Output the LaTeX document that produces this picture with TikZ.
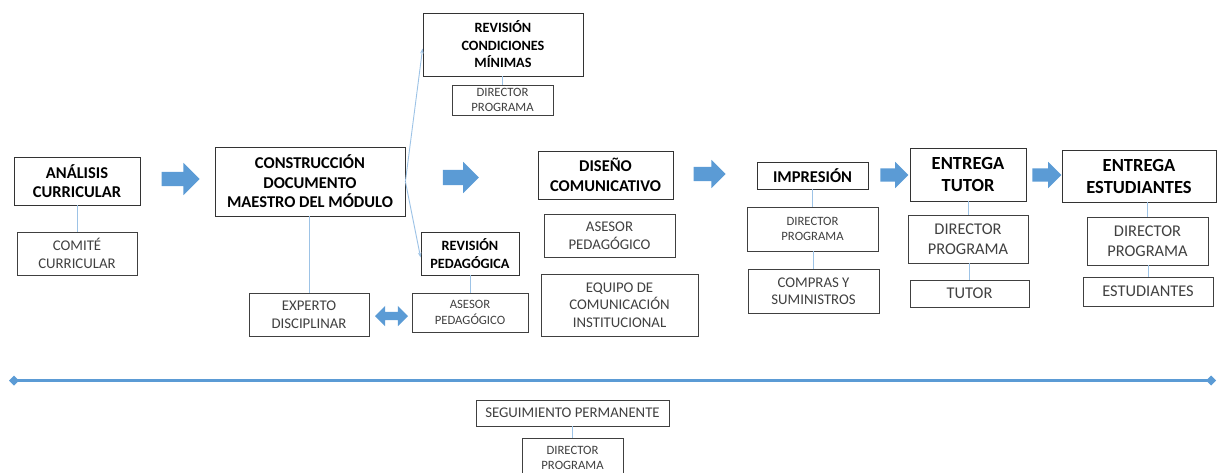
\documentclass[tikz,border=0pt]{standalone}
\usepackage{fontspec}
\setmainfont{Carlito}
\usetikzlibrary{shapes.arrows,arrows.meta}
\definecolor{flowblue}{HTML}{5B9BD5}
\definecolor{linkblue}{HTML}{9DC3E6}
\newcommand{\stagefont}{\fontsize{16.5}{19.5}\selectfont\bfseries}
\newcommand{\bigstagefont}{\fontsize{18.5}{22}\selectfont\bfseries}
\newcommand{\midstagefont}{\fontsize{14.2}{17.5}\selectfont\bfseries}
\newcommand{\actorfont}{\fontsize{14.8}{17.5}\selectfont}
\newcommand{\bigactorfont}{\fontsize{16.4}{20}\selectfont}
\newcommand{\smallactorfont}{\fontsize{12.7}{15.5}\selectfont}

\tikzset{
  stage/.style={draw=black!80, line width=0.8pt, align=center, inner sep=0pt, font=\stagefont},
  actor/.style={draw=black!75, line width=0.7pt, align=center, inner sep=0pt, text=black!75, font=\actorfont},
  link/.style={linkblue, line width=0.9pt},
  flow/.style={single arrow, fill=flowblue, inner xsep=0pt, minimum height=#1},
  twoway/.style={double arrow, fill=flowblue, inner xsep=0pt, minimum height=#1}
}

\begin{document}
\begin{tikzpicture}[x=1pt,y=-1pt]
\useasboundingbox (0,0) rectangle (1217,472);

\node[stage, minimum width=126pt, minimum height=48pt] (analisis) at (77,181) {ANÁLISIS\\CURRICULAR};
\node[actor, minimum width=120pt, minimum height=43pt] (comite) at (77,253.5) {COMITÉ\\CURRICULAR};

\node[stage, minimum width=190pt, minimum height=69pt] (construccion) at (310,181.5) {CONSTRUCCIÓN\\DOCUMENTO\\MAESTRO DEL MÓDULO};
\node[actor, minimum width=120pt, minimum height=43pt] (experto) at (309,314.5) {EXPERTO\\DISCIPLINAR};

\node[stage, font=\midstagefont, minimum width=160pt, minimum height=63pt] (revcond) at (503,44.5) {REVISIÓN\\CONDICIONES\\MÍNIMAS};
\node[actor, font=\smallactorfont, minimum width=101pt, minimum height=30pt] (dirtop) at (502.5,100) {DIRECTOR\\PROGRAMA};

\node[stage, font=\midstagefont, minimum width=98pt, minimum height=43pt] (revped) at (470,253.5) {REVISIÓN\\PEDAGÓGICA};
\node[actor, font=\smallactorfont, minimum width=116pt, minimum height=39pt] (asesorped) at (470,312.5) {ASESOR\\PEDAGÓGICO};

\node[stage, minimum width=135pt, minimum height=48pt] (diseno) at (605.5,175) {DISEÑO\\COMUNICATIVO};
\node[actor, minimum width=131pt, minimum height=43pt] (asesordis) at (609.5,235.5) {ASESOR\\PEDAGÓGICO};
\node[actor, minimum width=157pt, minimum height=62pt] (equipo) at (619.5,305) {EQUIPO DE\\COMUNICACIÓN\\INSTITUCIONAL};

\node[stage, minimum width=111pt, minimum height=27pt] (impresion) at (812.5,175.5) {IMPRESIÓN};
\node[actor, font=\smallactorfont, minimum width=131pt, minimum height=44pt] (dirimp) at (812.5,229) {DIRECTOR\\PROGRAMA};
\node[actor, minimum width=131pt, minimum height=44pt] (compras) at (813.5,291) {COMPRAS Y\\SUMINISTROS};

\node[stage, font=\bigstagefont, minimum width=116pt, minimum height=53pt] (entutor) at (968,174.5) {ENTREGA\\TUTOR};
\node[actor, font=\bigactorfont, minimum width=120pt, minimum height=48pt] (dirtutor) at (968,239) {DIRECTOR\\PROGRAMA};
\node[actor, font=\bigactorfont, minimum width=119pt, minimum height=27pt] (tutor) at (969.5,293.5) {TUTOR};

\node[stage, font=\bigstagefont, minimum width=154pt, minimum height=52pt] (enest) at (1139,176) {ENTREGA\\ESTUDIANTES};
\node[actor, font=\bigactorfont, minimum width=121pt, minimum height=48pt] (direst) at (1147.5,241) {DIRECTOR\\PROGRAMA};
\node[actor, font=\bigactorfont, minimum width=130pt, minimum height=29pt] (estudiantes) at (1148,291.5) {ESTUDIANTES};

\node[actor, minimum width=193pt, minimum height=26pt] (seguimiento) at (572.5,413) {SEGUIMIENTO PERMANENTE};
\node[actor, font=\smallactorfont, minimum width=101pt, minimum height=44pt, text depth=4pt] (dirfin) at (572.5,460) {DIRECTOR\\PROGRAMA};

\node[flow=38pt, inner ysep=7pt, single arrow head extend=9pt] (f1) at (177,179) {};
\node[flow=36pt, inner ysep=7.5pt, single arrow head extend=8pt] (f2) at (457,177.5) {};
\node[flow=32pt, inner ysep=7pt, single arrow head extend=7pt] (f3) at (706,174) {};
\node[flow=28pt, inner ysep=6.5pt, single arrow head extend=6.5pt] (f4) at (891,175) {};
\node[flow=29pt, inner ysep=6.5pt, single arrow head extend=6.5pt] (f5) at (1043.5,175) {};
\node[twoway=33pt, inner ysep=4pt, double arrow head extend=6pt] (f6) at (391.5,316) {};

\draw[link] (comite.north) -- (comite.north |- analisis.south);
\draw[link] (experto.north) -- (experto.north |- construccion.south);
\draw[link] (dirtop.north) -- (dirtop.north |- revcond.south);
\draw[link] (asesorped.north) -- (asesorped.north |- revped.south);
\draw[link] (dirimp.north) -- (dirimp.north |- impresion.south);
\draw[link] (compras.north) -- (compras.north |- dirimp.south);
\draw[link] (dirtutor.north) -- (dirtutor.north |- entutor.south);
\draw[link] (tutor.north) -- (tutor.north |- dirtutor.south);
\draw[link] (direst.north) -- (direst.north |- enest.south);
\draw[link] (estudiantes.north) -- (estudiantes.north |- direst.south);
\draw[link] (dirfin.north) -- (dirfin.north |- seguimiento.south);

\draw[link, -{Stealth[length=5pt,width=3.5pt]}] (construccion.east) -- ([yshift=-4pt]revcond.west);
\draw[link, -{Stealth[length=5pt,width=3.5pt]}] (construccion.east) -- ([yshift=-4pt]revped.west);

\coordinate (lineleft) at (9,380.5);
\coordinate (lineright) at (1216,380.5);
\draw[flowblue, line width=3pt, {Diamond[length=10pt,width=10pt]}-{Diamond[length=10pt,width=10pt]}] (lineleft) -- (lineright);
\end{tikzpicture}
\end{document}
